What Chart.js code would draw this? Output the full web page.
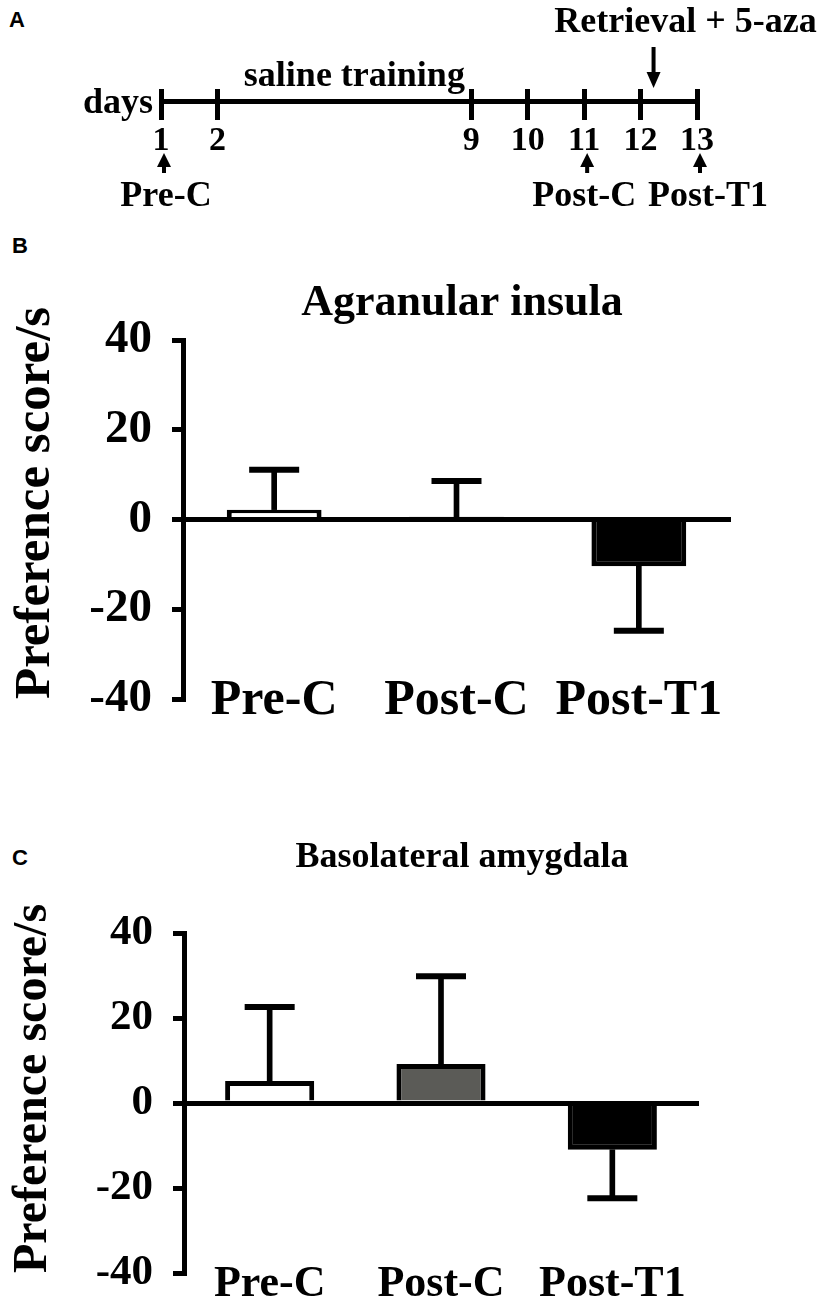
<!DOCTYPE html>
<html>
<head>
<meta charset="utf-8">
<script src="https://cdn.jsdelivr.net/npm/chart.js@4.4.1/dist/chart.umd.min.js"></script>
<style>
  html, body { margin: 0; padding: 0; background: #fff; }
  body { width: 826px; height: 1300px; position: relative; overflow: hidden; }
  canvas { position: absolute; left: 0; }
  .tag { position: absolute; font: bold 22px "Liberation Sans", Arial, sans-serif; line-height: 22px; color: #000; }
</style>
</head>
<body>
<div class="tag" style="left:9px;top:9px">A</div>
<div class="tag" style="left:12px;top:235px">B</div>
<div class="tag" style="left:12px;top:847px">C</div>
<canvas id="timeline" width="826" height="230" style="top:0"></canvas>
<canvas id="insula" width="826" height="480" style="top:250px"></canvas>
<canvas id="amygdala" width="826" height="484" style="top:820px"></canvas>
<script>
"use strict";

const SERIF = '"Liberation Serif", "Times New Roman", serif';

// panel A: day axis in half-day slots, days 3-8 are squeezed out
const dayLabels = ['1', '', '2', '', '', '', '', '', '', '', '', '9', '', '10', '', '11', '', '12', '', '13'];
const trainingFrom = '2';
const trainingTo = '9';
const injectionDay = '12';
const testDays = ['1', '11', '13'];
const testNames = ['Pre-C', 'Post-C', 'Post-T1'];

// panels B and C
const groups = ['Pre-C', 'Post-C', 'Post-T1'];
const yTicks = [-40, -20, 0, 20, 40];
const insulaMean = [2.2, 0.6, -10.4];
const insulaSem = [8.9, 8.0, 14.4];
const amygdalaMean = [5.2, 9.2, -11.0];
const amygdalaSem = [17.4, 20.6, 11.4];

const insulaFill = ['#ffffff', '#ffffff', '#000000'];
const amygdalaFill = ['#ffffff', '#5b5b57', '#000000'];
const testLabelShift = [5, 0, 11];

function upArrow(ctx, x, top) {
  ctx.beginPath();
  ctx.moveTo(x - 7, top + 14);
  ctx.lineTo(x + 7, top + 14);
  ctx.lineTo(x, top);
  ctx.closePath();
  ctx.fill();
  ctx.fillRect(x - 2, top + 12, 4, 8);
}

// texts and arrows around the day axis
const timelineNotes = {
  id: 'timelineNotes',
  afterDraw(chart) {
    const {ctx, chartArea, scales: {x, y}} = chart;
    const px = d => x.getPixelForTick(dayLabels.indexOf(d));
    const lineY = y.getPixelForValue(0);
    ctx.save();
    ctx.fillStyle = '#000';
    ctx.strokeStyle = '#000';
    ctx.font = `bold 36px ${SERIF}`;
    ctx.textBaseline = 'alphabetic';
    ctx.textAlign = 'right';
    ctx.fillText('days', chartArea.left - 8, lineY + 12);
    ctx.textAlign = 'center';
    ctx.fillText('saline training', (px(trainingFrom) + px(trainingTo)) / 2 + 10, 86);

    const inj = px(injectionDay) + 0.23 * (px('13') - px(injectionDay));
    ctx.fillText('Retrieval + 5-aza', inj + 32, 32);
    ctx.lineWidth = 4;
    ctx.beginPath();
    ctx.moveTo(inj, 47);
    ctx.lineTo(inj, 76);
    ctx.stroke();
    ctx.beginPath();
    ctx.moveTo(inj - 7, 72);
    ctx.lineTo(inj + 7, 72);
    ctx.lineTo(inj, 88);
    ctx.closePath();
    ctx.fill();

    testDays.forEach((d, i) => {
      upArrow(ctx, px(d) + 3, 153);
      ctx.fillText(testNames[i], px(d) + testLabelShift[i], 206);
    });
    ctx.restore();
  }
};

const panelTitle = {
  id: 'panelTitle',
  afterDraw(chart, args, opts) {
    if (!opts.text) return;
    const ctx = chart.ctx;
    ctx.save();
    ctx.font = `bold ${opts.size}px ${SERIF}`;
    ctx.fillStyle = '#000';
    ctx.textAlign = 'center';
    ctx.textBaseline = 'alphabetic';
    ctx.fillText(opts.text, opts.x, opts.y);
    ctx.restore();
  }
};

new Chart(document.getElementById('timeline'), {
  type: 'line',
  data: { labels: dayLabels, datasets: [] },
  options: {
    responsive: false,
    animation: false,
    events: [],
    layout: { padding: { left: 161, right: 129, top: 89, bottom: 110 } },
    plugins: { legend: { display: false }, tooltip: { enabled: false } },
    scales: {
      x: {
        type: 'category',
        offset: false,
        position: { y: 0 },
        afterFit: s => { s.paddingLeft = 0; s.paddingRight = 0; },
        grid: {
          display: true,
          drawTicks: false,
          drawOnChartArea: true,
          lineWidth: 5,
          color: c => (dayLabels[c.index] ? '#000' : 'rgba(0,0,0,0)')
        },
        border: { display: true, color: '#000', width: 5 },
        ticks: {
          color: '#000',
          font: { family: SERIF, size: 34, weight: 'bold' },
          padding: 20,
          autoSkip: false,
          maxRotation: 0
        }
      },
      y: { display: false, min: -1.9, max: 1.2 }
    }
  },
  plugins: [timelineNotes]
});

function barPanel(id, means, sems, fills, look) {
  // error bars run away from zero, as in the figure
  const ends = means.map((m, i) => m + Math.sign(m) * sems[i]);
  return new Chart(document.getElementById(id), {
    type: 'bar',
    data: {
      labels: groups,
      datasets: [
        {
          type: 'line',
          data: ends,
          showLine: false,
          pointStyle: 'line',
          pointRadius: 25,
          pointBorderWidth: 6,
          pointBorderColor: '#000',
          order: 0
        },
        {
          data: means.map((m, i) => [m, ends[i]]),
          backgroundColor: '#000',
          barThickness: 5,
          grouped: false,
          order: 1
        },
        {
          data: means,
          backgroundColor: fills,
          borderColor: '#000',
          borderWidth: 5,
          barPercentage: 0.52,
          categoryPercentage: 1,
          grouped: false,
          order: 2
        }
      ]
    },
    options: {
      responsive: false,
      animation: false,
      events: [],
      layout: { padding: { left: 0, right: look.right, top: look.top, bottom: look.bottom } },
      plugins: {
        legend: { display: false },
        tooltip: { enabled: false },
        panelTitle: { text: look.title, x: 462, y: look.titleY, size: look.titleSize }
      },
      scales: {
        x: {
          type: 'category',
          offset: true,
          position: { y: 0 },
          // labels sit low inside the plot, keep the big padding out of the layout
          afterFit: s => { s.paddingLeft = 0; s.paddingRight = 0; },
          grid: { display: false, drawTicks: false },
          border: { display: true, color: '#000', width: 5, z: 1 },
          ticks: {
            color: '#000',
            font: { family: SERIF, size: look.xFont, weight: 'bold' },
            padding: look.xPad,
            autoSkip: false,
            maxRotation: 0
          }
        },
        y: {
          min: yTicks[0],
          max: yTicks[yTicks.length - 1],
          afterBuildTicks: s => { s.ticks = yTicks.map(v => ({ value: v })); },
          afterFit: s => { s.width = look.axisX; s.paddingTop = 0; s.paddingBottom = 0; },
          grid: { drawOnChartArea: false, drawTicks: true, tickLength: 11, lineWidth: 5, color: '#000' },
          border: { display: true, color: '#000', width: 5 },
          ticks: {
            color: '#000',
            font: { family: SERIF, size: look.yFont, weight: 'bold' },
            padding: 20
          },
          title: {
            display: true,
            text: 'Preference score/s',
            align: 'start',
            color: '#000',
            font: { family: SERIF, size: look.yTitleSize, weight: 'bold' },
            padding: { top: 5, bottom: 0 }
          }
        }
      }
    },
    plugins: [panelTitle]
  });
}

barPanel('insula', insulaMean, insulaSem, insulaFill, {
  title: 'Agranular insula', titleY: 65, titleSize: 44,
  top: 90, right: 96, bottom: 28, axisX: 183,
  xFont: 50, xPad: 152, yFont: 47, yTitleSize: 51
});

barPanel('amygdala', amygdalaMean, amygdalaSem, amygdalaFill, {
  title: 'Basolateral amygdala', titleY: 47, titleSize: 36,
  top: 113, right: 128, bottom: 26, axisX: 184,
  xFont: 44, xPad: 155, yFont: 43, yTitleSize: 48
});
</script>
</body>
</html>
